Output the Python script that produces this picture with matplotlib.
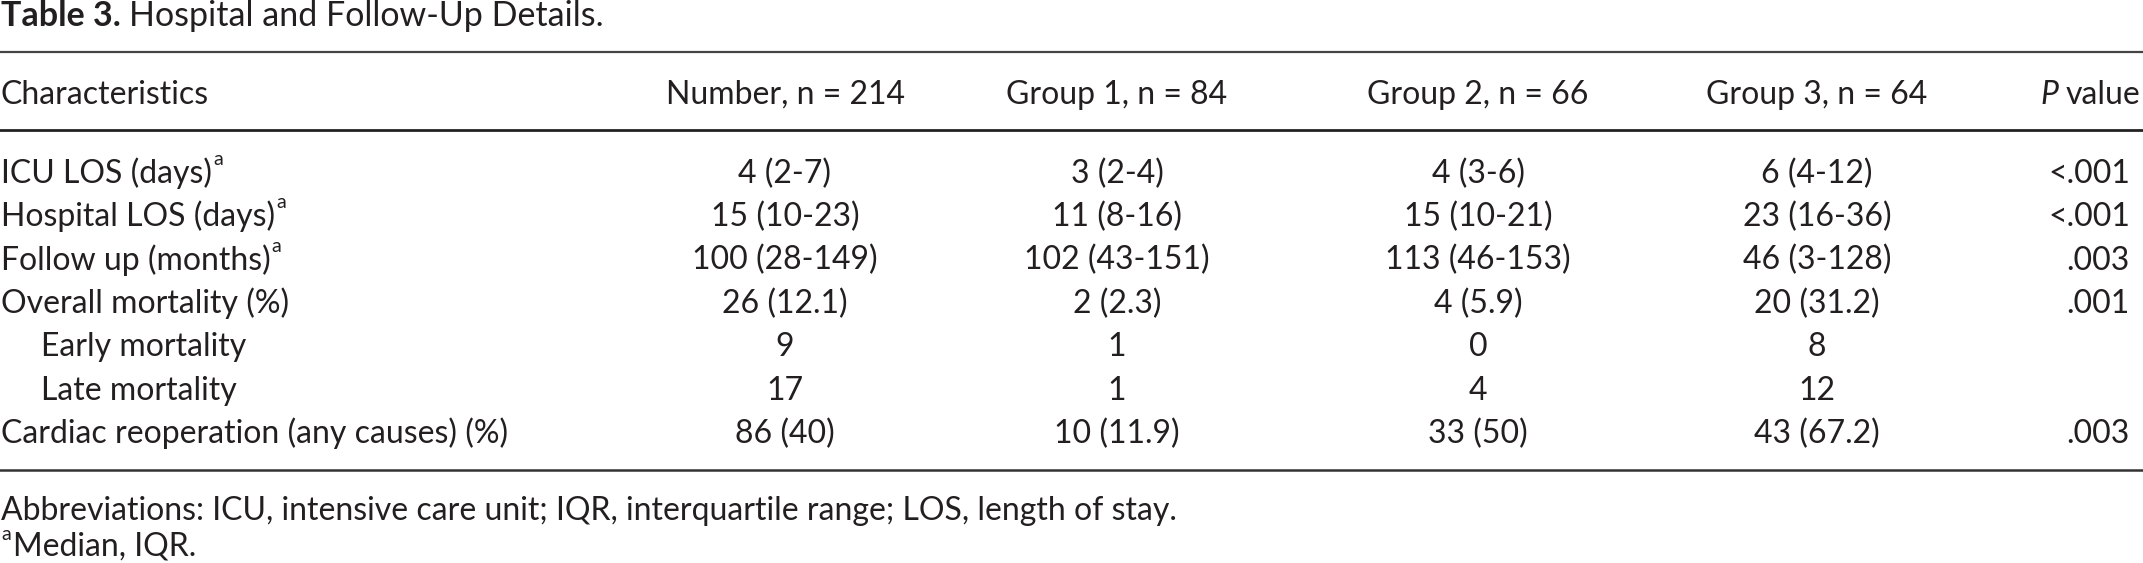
import matplotlib
matplotlib.use('Agg')
import matplotlib.pyplot as plt

plt.rcParams['font.family'] = ['Lato', 'DejaVu Sans']

# table content
title_bold = 'Table 3.'
title_rest = 'Hospital and Follow-Up Details.'
col_heads = ['Number, n = 214', 'Group 1, n = 84', 'Group 2, n = 66', 'Group 3, n = 64']
characteristics = ['ICU LOS (days)', 'Hospital LOS (days)', 'Follow up (months)',
                   'Overall mortality (%)', 'Early mortality', 'Late mortality',
                   'Cardiac reoperation (any causes) (%)']
superscript_a = [True, True, True, False, False, False, False]
indented = [False, False, False, False, True, True, False]
number_all = ['4 (2-7)', '15 (10-23)', '100 (28-149)', '26 (12.1)', '9', '17', '86 (40)']
group1 = ['3 (2-4)', '11 (8-16)', '102 (43-151)', '2 (2.3)', '1', '1', '10 (11.9)']
group2 = ['4 (3-6)', '15 (10-21)', '113 (46-153)', '4 (5.9)', '0', '4', '33 (50)']
group3 = ['6 (4-12)', '23 (16-36)', '46 (3-128)', '20 (31.2)', '8', '12', '43 (67.2)']
p_values = ['<.001', '<.001', '.003', '.001', '', '', '.003']
abbrev = 'Abbreviations: ICU, intensive care unit; IQR, interquartile range; LOS, length of stay.'
footnote = 'Median, IQR.'

W, H = 2143, 563
fig = plt.figure(figsize=(W / 100, H / 100), dpi=100)
ax = fig.add_axes([0, 0, 1, 1])
ax.set_xlim(0, W)
ax.set_ylim(H, 0)
ax.axis('off')
renderer = fig.canvas.get_renderer()

ink = '#231f20'
fs = 23
fs_sup = 14


def right_edge(txt):
    bb = txt.get_window_extent(renderer=renderer)
    return ax.transData.inverted().transform((bb.x1, bb.y0))[0]


def left_edge(txt):
    bb = txt.get_window_extent(renderer=renderer)
    return ax.transData.inverted().transform((bb.x0, bb.y0))[0]


# title
t = ax.text(1, 26, title_bold, fontsize=fs + 1.5, fontweight='bold', color=ink, va='baseline')
ax.text(right_edge(t) + 8, 26, title_rest, fontsize=fs + 1.5, color=ink, va='baseline')

# rules
ax.plot([0, W], [52, 52], color='#444444', lw=1.6)
ax.plot([0, W], [130, 130], color='#222222', lw=2.0)
ax.plot([0, W], [470, 470], color='#333333', lw=1.8)

# header
head_y = 104
ax.text(1, head_y, 'Characteristics', fontsize=fs, color=ink, va='baseline')
col_x = [785, 1117, 1478, 1817]
for x, h in zip(col_x, col_heads):
    ax.text(x, head_y, h, fontsize=fs, color=ink, ha='center', va='baseline')
pv = ax.text(2140, head_y, 'value', fontsize=fs, color=ink, ha='right', va='baseline')
ax.text(left_edge(pv) - 7, head_y, 'P', fontsize=fs, color=ink, style='italic',
        ha='right', va='baseline')

# body rows
row_y0, pitch = 183, 43.3
columns = [number_all, group1, group2, group3]
for i, name in enumerate(characteristics):
    y = row_y0 + i * pitch
    x0 = 41 if indented[i] else 1
    lab = ax.text(x0, y, name, fontsize=fs, color=ink, va='baseline')
    if superscript_a[i]:
        ax.text(right_edge(lab) + 1, y - 18, 'a', fontsize=fs_sup, color=ink, va='baseline')
    for x, col in zip(col_x, columns):
        ax.text(x, y, col[i], fontsize=fs, color=ink, ha='center', va='baseline')
    ax.text(2130, y, p_values[i], fontsize=fs, color=ink, ha='right', va='baseline')

# footnotes
ax.text(1, 520, abbrev, fontsize=fs, color=ink, va='baseline')
sa = ax.text(1, 540, 'a', fontsize=fs_sup, color=ink, va='baseline')
ax.text(right_edge(sa) + 2, 556, footnote, fontsize=fs, color=ink, va='baseline')

fig.savefig('out.png', dpi=100)
